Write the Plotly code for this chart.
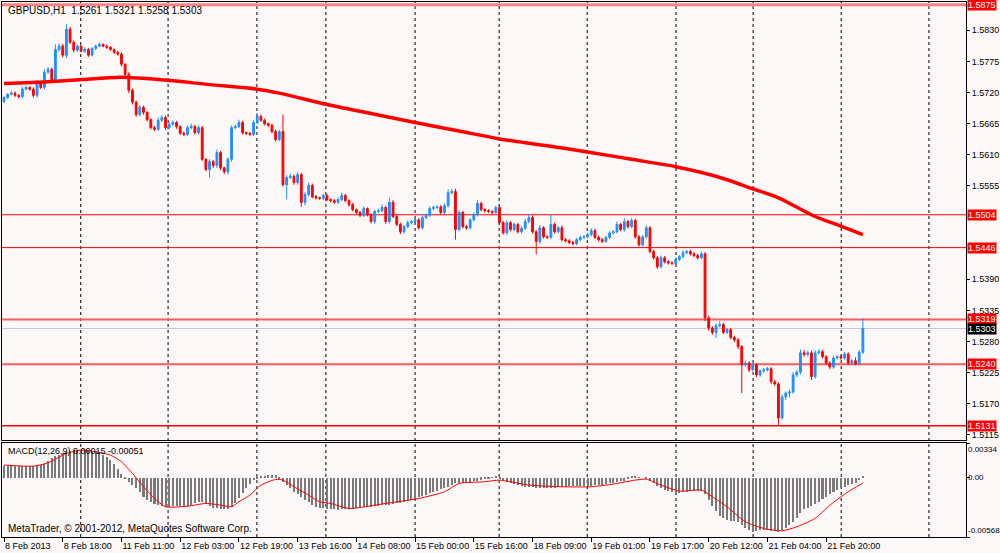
import plotly.graph_objects as go

# GBPUSD H1 candles, bar index on the x axis (0 = 8 Feb 2013 02:00)
first_open = 1.5704
closes = [
    1.5711, 1.5717, 1.5719, 1.5715, 1.5713, 1.5726, 1.5729, 1.5726, 1.5715, 1.5736,
    1.5729, 1.5756, 1.5761, 1.5743, 1.5796, 1.5802, 1.5786, 1.5832, 1.5809, 1.5795,
    1.5802, 1.5793, 1.5796, 1.5786, 1.5798, 1.5802, 1.5805, 1.5802, 1.5800, 1.5796,
    1.5791, 1.5788, 1.5770, 1.5752, 1.5724, 1.5703, 1.5681, 1.5694, 1.5685, 1.5672,
    1.5658, 1.5655, 1.5671, 1.5676, 1.5658, 1.5664, 1.5667, 1.5660, 1.5648, 1.5646,
    1.5658, 1.5660, 1.5649, 1.5658, 1.5602, 1.5584, 1.5598, 1.5591, 1.5614, 1.5587,
    1.5580, 1.5602, 1.5658, 1.5660, 1.5667, 1.5649, 1.5648, 1.5646, 1.5667, 1.5678,
    1.5671, 1.5665, 1.5662, 1.5651, 1.5637, 1.5651, 1.5557, 1.5570, 1.5572, 1.5561,
    1.5575, 1.5526, 1.5540, 1.5556, 1.5536, 1.5534, 1.5533, 1.5538, 1.5531, 1.5529,
    1.5526, 1.5531, 1.5538, 1.5529, 1.5522, 1.5513, 1.5508, 1.5503, 1.5515, 1.5504,
    1.5492, 1.5510, 1.5511, 1.5517, 1.5492, 1.5526, 1.5501, 1.5487, 1.5474, 1.5483,
    1.5490, 1.5492, 1.5495, 1.5481, 1.5499, 1.5503, 1.5515, 1.5517, 1.5518, 1.5508,
    1.5520, 1.5543, 1.5545, 1.5478, 1.5508, 1.5483, 1.5481, 1.5495, 1.5504, 1.5524,
    1.5513, 1.5511, 1.5510, 1.5508, 1.5517, 1.5490, 1.5472, 1.5490, 1.5478, 1.5487,
    1.5474, 1.5480, 1.5492, 1.5499, 1.5474, 1.5457, 1.5481, 1.5465, 1.5464, 1.5487,
    1.5474, 1.5481, 1.5460, 1.5458, 1.5455, 1.5453, 1.5460, 1.5464, 1.5465, 1.5469,
    1.5476, 1.5464, 1.5460, 1.5457, 1.5464, 1.5472, 1.5474, 1.5487, 1.5478, 1.5492,
    1.5483, 1.5494, 1.5465, 1.5451, 1.5465, 1.5481, 1.5439, 1.5428, 1.5412, 1.5428,
    1.5421, 1.5419, 1.5418, 1.5425, 1.5430, 1.5437, 1.5439, 1.5435, 1.5432, 1.5428,
    1.5435, 1.5322, 1.5304, 1.5296, 1.5308, 1.5310, 1.5296, 1.5301, 1.5287, 1.5283,
    1.5271, 1.5239, 1.5242, 1.5230, 1.5239, 1.5221, 1.5228, 1.5230, 1.5232, 1.5209,
    1.5205, 1.5145, 1.5182, 1.5189, 1.5191, 1.5221, 1.5226, 1.5260, 1.5257, 1.5260,
    1.5218, 1.5260, 1.5262, 1.5253, 1.5242, 1.5235, 1.5251, 1.5253, 1.5251, 1.5258,
    1.5242, 1.5246, 1.5241, 1.5261, 1.5303,
]
# wick lengths above / below the body, in pips
upper_wick_pips = [
    3, 2, 4, 3, 2, 4, 3, 2, 3, 6, 3, 5, 4, 3, 9, 5, 4, 9, 4, 3,
    3, 2, 4, 3, 2, 3, 3, 2, 3, 2, 2, 3, 3, 2, 4, 3, 3, 4, 3, 2,
    3, 3, 5, 4, 3, 5, 4, 3, 2, 3, 4, 5, 3, 4, 3, 2, 4, 3, 5, 3,
    2, 3, 4, 3, 5, 3, 2, 2, 4, 6, 3, 3, 2, 3, 4, 3, 30, 4, 5, 3,
    4, 3, 4, 5, 3, 3, 2, 3, 3, 2, 3, 4, 5, 3, 2, 3, 2, 3, 4, 2,
    3, 3, 4, 5, 3, 8, 4, 3, 3, 3, 4, 3, 3, 3, 4, 3, 4, 3, 2, 3,
    4, 6, 5, 5, 4, 3, 3, 3, 4, 6, 3, 3, 3, 2, 3, 3, 3, 4, 3, 3,
    3, 4, 5, 6, 4, 3, 5, 3, 3, 17, 3, 3, 4, 3, 3, 3, 3, 3, 3, 3,
    4, 3, 3, 3, 3, 3, 3, 5, 3, 6, 3, 4, 3, 3, 3, 4, 3, 3, 3, 4,
    3, 3, 3, 3, 3, 4, 3, 3, 3, 3, 4, 3, 4, 3, 4, 6, 3, 3, 3, 3,
    3, 3, 4, 3, 4, 3, 3, 3, 3, 3, 3, 3, 4, 3, 4, 5, 4, 6, 5, 4,
    4, 5, 4, 3, 3, 3, 4, 3, 3, 4, 3, 3, 6, 4, 18,
]
lower_wick_pips = [
    3, 3, 2, 3, 3, 3, 2, 3, 4, 4, 3, 4, 3, 4, 5, 4, 4, 5, 3, 4,
    3, 2, 3, 3, 2, 3, 2, 2, 3, 2, 3, 3, 4, 4, 5, 4, 4, 3, 4, 3,
    3, 3, 3, 3, 4, 3, 3, 4, 3, 3, 3, 3, 3, 4, 3, 3, 14, 4, 4, 4,
    4, 5, 4, 3, 3, 3, 3, 3, 3, 3, 3, 3, 3, 3, 4, 3, 3, 26, 3, 4,
    4, 8, 5, 4, 3, 3, 3, 3, 3, 3, 3, 3, 3, 3, 4, 3, 3, 3, 3, 3,
    3, 4, 3, 3, 4, 3, 3, 3, 4, 3, 3, 3, 3, 3, 3, 3, 3, 3, 3, 3,
    3, 3, 3, 18, 3, 3, 3, 3, 3, 3, 3, 3, 3, 3, 3, 4, 3, 3, 3, 3,
    3, 3, 3, 3, 3, 23, 4, 3, 3, 3, 3, 3, 3, 3, 3, 3, 3, 3, 3, 3,
    3, 3, 3, 3, 3, 3, 3, 3, 3, 4, 3, 3, 3, 3, 3, 3, 3, 3, 4, 3,
    3, 3, 3, 3, 3, 3, 3, 3, 3, 3, 3, 6, 5, 4, 10, 3, 3, 3, 3, 4,
    4, 50, 3, 4, 3, 4, 3, 3, 3, 4, 3, 14, 3, 5, 8, 3, 4, 4, 4, 3,
    6, 4, 3, 3, 3, 4, 3, 3, 3, 3, 3, 3, 3, 3, 3,
]

# moving average (thick red line), read at selected bars
ma_idx = [0, 12, 21, 32, 44, 56, 69, 75, 88, 100, 112, 124, 135, 147, 159,
          171, 183, 194, 204, 211, 221, 228, 234]
ma_val = [1.5736, 1.5739, 1.5743, 1.5747, 1.5742, 1.5734, 1.5726, 1.5719, 1.5699,
          1.5683, 1.5667, 1.5652, 1.5638, 1.5627, 1.5615, 1.5602, 1.5589, 1.5572,
          1.5550, 1.5534, 1.5501, 1.5484, 1.5469]

# MACD(12,26,9) histogram, in units of 1e-5
macd_hist_e5 = [
    110, 112, 111, 113, 112, 114, 113, 115, 117, 120, 122, 135, 165, 186, 205, 218, 235, 250, 258, 264,
    268, 270, 270, 268, 262, 255, 240, 220, 200, 170, 130, 80, 40, -5, -38, -70, -102, -140, -182, -210,
    -230, -252, -262, -272, -278, -276, -274, -272, -272, -270, -268, -262, -246, -232, -230, -250, -270, -285, -294, -300,
    -304, -300, -280, -240, -198, -150, -102, -60, -22, -2, 16, 22, 26, 26, 24, -6, -40, -70, -100, -134,
    -160, -182, -215, -230, -260, -278, -290, -294, -304, -304, -304, -305, -304, -302, -300, -296, -292, -288, -283, -278,
    -276, -273, -270, -264, -262, -258, -252, -246, -240, -236, -226, -212, -198, -186, -176, -166, -150, -134, -122, -110,
    -98, -86, -70, -54, -48, -50, -54, -45, -35, -28, -18, -10, -6, 2, 10, -16, -25, -40, -54, -62,
    -70, -80, -85, -90, -92, -96, -100, -102, -102, -100, -94, -88, -86, -84, -82, -81, -80, -80, -80, -78,
    -75, -70, -70, -66, -60, -54, -48, -40, -34, -28, -10, 16, 12, 5, 0, -6, -30, -54, -80, -102,
    -120, -128, -136, -144, -144, -140, -134, -130, -127, -125, -130, -160, -210, -270, -320, -370, -390, -405, -412, -418,
    -422, -450, -480, -505, -518, -510, -505, -502, -505, -508, -512, -518, -505, -486, -450, -420, -390, -340, -300, -294,
    -275, -250, -230, -205, -182, -160, -140, -118, -100, -85, -70, -60, -48, -25, 15,
]
# MACD signal line, read at selected bars, in units of 1e-5
signal_idx = [0, 8, 12, 17, 21, 25, 29, 32, 35, 38, 41, 44, 50, 55, 59, 62, 64, 67, 70, 74,
              76, 79, 83, 86, 89, 94, 104, 113, 120, 124, 131, 135, 143, 152, 160, 166, 172, 175, 179, 184,
              190, 193, 197, 202, 207, 212, 216, 221, 225, 230, 234]
signal_e5 = [122, 112, 144, 234, 266, 250, 218, 154, 42, -86, -198, -278, -272, -246, -262, -278, -230, -166, -70, -16,
             -22, -86, -166, -230, -246, -294, -246, -198, -134, -54, -38, -22, -70, -86, -86, -60, -22, -13, -70, -128,
             -118, -182, -278, -422, -486, -508, -470, -390, -262, -134, -51]

level_lines = [1.5875, 1.5504, 1.5446, 1.5319, 1.5240, 1.5131]
bid = 1.5303

price_ticks = [1.5830, 1.5775, 1.5720, 1.5665, 1.5610, 1.5555,
               1.5390, 1.5335, 1.5280, 1.5225, 1.5170, 1.5115]
macd_ticks = [0.00334, 0.0, -0.00568]
macd_tick_labels = ["0.00334", "0.00", "-0.00568"]
time_ticks = [0, 16, 32, 48, 64, 80, 96, 112, 128, 144, 160, 176, 192, 208, 224]
time_labels = ["8 Feb 2013", "8 Feb 18:00", "11 Feb 11:00", "12 Feb 03:00", "12 Feb 19:00",
               "13 Feb 16:00", "14 Feb 08:00", "15 Feb 00:00", "15 Feb 16:00", "18 Feb 09:00",
               "19 Feb 01:00", "19 Feb 17:00", "20 Feb 12:00", "21 Feb 04:00", "21 Feb 20:00"]
day_breaks = [20.9, 44.7, 68.9, 87.7, 112.0, 134.9, 158.9, 183.1, 204.1, 228.1, 252.0]

bars = list(range(len(closes)))
opens = [first_open] + closes[:-1]
highs = [max(o, c) + w * 1e-4 for o, c, w in zip(opens, closes, upper_wick_pips)]
lows = [min(o, c) - w * 1e-4 for o, c, w in zip(opens, closes, lower_wick_pips)]
macd_hist = [v * 1e-5 for v in macd_hist_e5]
signal = [v * 1e-5 for v in signal_e5]

BG = "#FCF8F7"
FONT = "Liberation Sans"
BLUE = "#1E90FF"
RED = "#FF0000"
AX = 9  # axis label size

fig = go.Figure()

fig.add_trace(go.Candlestick(
    x=bars, open=opens, high=highs, low=lows, close=closes,
    increasing=dict(line=dict(color=BLUE, width=1), fillcolor=BLUE),
    decreasing=dict(line=dict(color=RED, width=1), fillcolor=RED),
    whiskerwidth=0, showlegend=False, hoverinfo="skip",
    xaxis="x", yaxis="y"))

fig.add_trace(go.Scatter(x=ma_idx, y=ma_val, mode="lines",
                         line=dict(color=RED, width=3.5, shape="spline", smoothing=0.8),
                         showlegend=False, hoverinfo="skip", xaxis="x", yaxis="y"))

fig.add_trace(go.Bar(x=bars, y=macd_hist, width=0.55,
                     marker=dict(color="#7A7A7A", line=dict(width=0)),
                     showlegend=False, hoverinfo="skip", xaxis="x2", yaxis="y2"))

fig.add_trace(go.Scatter(x=signal_idx, y=signal, mode="lines",
                         line=dict(color=RED, width=1, shape="spline", smoothing=0.6),
                         showlegend=False, hoverinfo="skip", xaxis="x2", yaxis="y2"))

shapes = []
for d in day_breaks:
    shapes.append(dict(type="line", xref="x", yref="paper", x0=d, x1=d, y0=0, y1=1,
                       line=dict(color="black", width=1, dash="3px,3px"), layer="below"))

level_style = {1.5875: ("#FF8080", 3), 1.5504: (RED, 1), 1.5446: (RED, 1),
               1.5319: ("#FF5A5A", 2), 1.5240: ("#FF5A5A", 2), 1.5131: (RED, 1.5)}
for lv in level_lines:
    col, w = level_style[lv]
    shapes.append(dict(type="line", xref="paper", yref="y", x0=0, x1=1, y0=lv, y1=lv,
                       line=dict(color=col, width=w), layer="below"))
shapes.append(dict(type="line", xref="paper", yref="y", x0=0, x1=1, y0=bid, y1=bid,
                   line=dict(color="#C8C8C8", width=1), layer="below"))

annotations = []
for lv in level_lines:
    annotations.append(dict(x=1, xref="paper", xanchor="left", xshift=1, y=lv, yref="y",
                            text=f"{lv:.4f}", showarrow=False, bgcolor=RED, borderpad=0,
                            font=dict(family=FONT, size=AX, color="white")))
annotations.append(dict(x=1, xref="paper", xanchor="left", xshift=1, y=bid, yref="y",
                        text=f"{bid:.4f}", showarrow=False, bgcolor="black", borderpad=0,
                        font=dict(family=FONT, size=AX, color="white")))

# MACD scale labels: the end ones sit just inside the panel, as in the terminal
for val, lab, anchor in zip(macd_ticks, macd_tick_labels, ["top", "middle", "bottom"]):
    annotations.append(dict(x=1, xref="paper", xanchor="left", xshift=0, y=val, yref="y2",
                            yanchor=anchor, text=lab, showarrow=False,
                            font=dict(family=FONT, size=8, color="black")))

annotations.append(dict(x=0.004, xref="paper", xanchor="left", y=1, yref="paper", yanchor="top",
                        yshift=-1, showarrow=False,
                        text="GBPUSD,H1  1.5261 1.5321 1.5258 1.5303",
                        font=dict(family=FONT, size=10, color="black")))
annotations.append(dict(x=0.004, xref="paper", xanchor="left", y=0.1757, yref="paper", yanchor="top",
                        yshift=-1, showarrow=False,
                        text="MACD(12,26,9) 0.00015 -0.00051",
                        font=dict(family=FONT, size=9, color="black")))
annotations.append(dict(x=0.004, xref="paper", xanchor="left", y=0, yref="paper", yanchor="bottom",
                        yshift=1, showarrow=False,
                        text="MetaTrader, © 2001-2012, MetaQuotes Software Corp.",
                        font=dict(family=FONT, size=10, color="black")))

x_range = [-0.55, 262.1]
axis_common = dict(showline=True, mirror=True, linecolor="black", linewidth=1,
                   showgrid=False, zeroline=False, automargin=False)

fig.update_layout(
    width=1000, height=553,
    margin=dict(l=2, r=34, t=2, b=16),
    paper_bgcolor=BG, plot_bgcolor=BG,
    font=dict(family=FONT, size=9, color="black"),
    bargap=0, showlegend=False,
    shapes=shapes, annotations=annotations,
    xaxis=dict(domain=[0, 1], anchor="y", range=x_range, showticklabels=False,
               ticks="", rangeslider=dict(visible=False), **axis_common),
    xaxis2=dict(domain=[0, 1], anchor="y2", range=x_range, matches="x",
                tickvals=time_ticks, ticktext=time_labels, ticks="outside", ticklen=4,
                tickcolor="black", ticklabelposition="outside right", tickangle=0,
                tickfont=dict(family=FONT, size=AX), **axis_common),
    yaxis=dict(domain=[0.1813, 1], anchor="x", side="right", range=[1.5106, 1.5880],
               tickvals=price_ticks, tickformat=".4f", ticks="outside", ticklen=3,
               tickcolor="black", tickfont=dict(family=FONT, size=AX), **axis_common),
    yaxis2=dict(domain=[0, 0.1757], anchor="x2", side="right", range=[-0.00568, 0.00334],
                tickvals=macd_ticks, showticklabels=False,
                ticks="outside", ticklen=3, tickcolor="black", **axis_common),
)

# drop the browser's default page margin so the 1000x553 figure fills the window
fig.write_html("out.html", config={"displayModeBar": False},
               post_script="document.body.style.margin='0';document.body.style.overflow='hidden';")
